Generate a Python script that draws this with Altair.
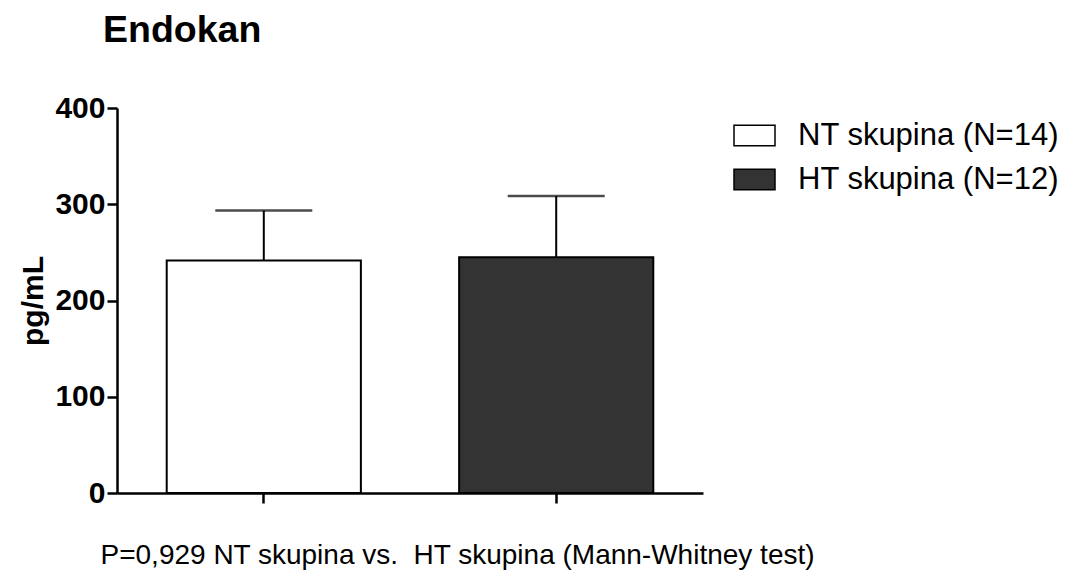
import altair as alt
import pandas as pd

groups = ["NT skupina (N=14)", "HT skupina (N=12)"]
means = [241.5, 245.0]
sems = [52.0, 63.5]
fills = ["#ffffff", "#333333"]

df = pd.DataFrame({
    "group": groups,
    "mean": means,
    "upper": [m + s for m, s in zip(means, sems)],
})

FONT = "Liberation Sans"

x = alt.X(
    "group:N",
    sort=groups,
    scale=alt.Scale(paddingInner=0.336, paddingOuter=0.17),
    axis=alt.Axis(
        title="P=0,929 NT skupina vs.\u00a0\u00a0HT skupina (Mann-Whitney test)",
        labels=False,
        domainColor="black",
        domainWidth=2.5,
        tickColor="black",
        tickWidth=2.5,
        tickSize=10,
        titleFont=FONT,
        titleFontSize=28,
        titleFontWeight="normal",
        titleColor="black",
        titleAnchor="start",
        titleAlign="left",
        titleBaseline="alphabetic",
        titleX=-17,
        titleY=70,
    ),
)

y_axis = alt.Axis(
    title="pg/mL",
    values=[0, 100, 200, 300, 400],
    grid=False,
    domainColor="black",
    domainWidth=2.5,
    tickColor="black",
    tickWidth=2.5,
    tickSize=10,
    labelFont=FONT,
    labelFontSize=30,
    labelFontWeight="bold",
    labelColor="black",
    labelPadding=2,
    titleFont=FONT,
    titleFontSize=30,
    titleFontWeight="bold",
    titleColor="black",
    titlePadding=6,
)

bars = alt.Chart(df).mark_bar(stroke="black", strokeWidth=2).encode(
    x=x,
    y=alt.Y("mean:Q", scale=alt.Scale(domain=[0, 400], nice=False), axis=y_axis),
    fill=alt.Fill(
        "group:N",
        sort=groups,
        scale=alt.Scale(domain=groups, range=fills),
        legend=alt.Legend(
            title=None,
            orient="none",
            legendX=616,
            legendY=6,
            padding=0,
            symbolType="M-1,-0.5H1V0.5H-1Z",
            symbolSize=1681,
            symbolStrokeColor="black",
            symbolStrokeWidth=1.5,
            labelFont=FONT,
            labelFontSize=31,
            labelColor="black",
            labelOffset=22,
            rowPadding=7,
            labelLimit=400,
        ),
    ),
)

stems = alt.Chart(df).mark_rule(color="black", strokeWidth=2).encode(
    x=alt.X("group:N", sort=groups),
    y="mean:Q",
    y2="upper:Q",
)

caps = alt.Chart(df).mark_tick(color="black", thickness=2.5, size=97).encode(
    x=alt.X("group:N", sort=groups),
    y="upper:Q",
)

chart = alt.layer(bars, stems, caps).properties(
    width=586,
    height=385,
    autosize=alt.AutoSizeParams(type="none"),
    padding={"left": 109, "top": 100, "right": 362, "bottom": 80},
    title=alt.TitleParams(
        "Endokan",
        anchor="start",
        frame="group",
        font=FONT,
        fontSize=37.5,
        fontWeight="bold",
        color="black",
        dx=-14,
        offset=44,
    ),
).configure_view(stroke=None)

chart.save("out.html", embed_options={"renderer": "svg", "actions": False})
